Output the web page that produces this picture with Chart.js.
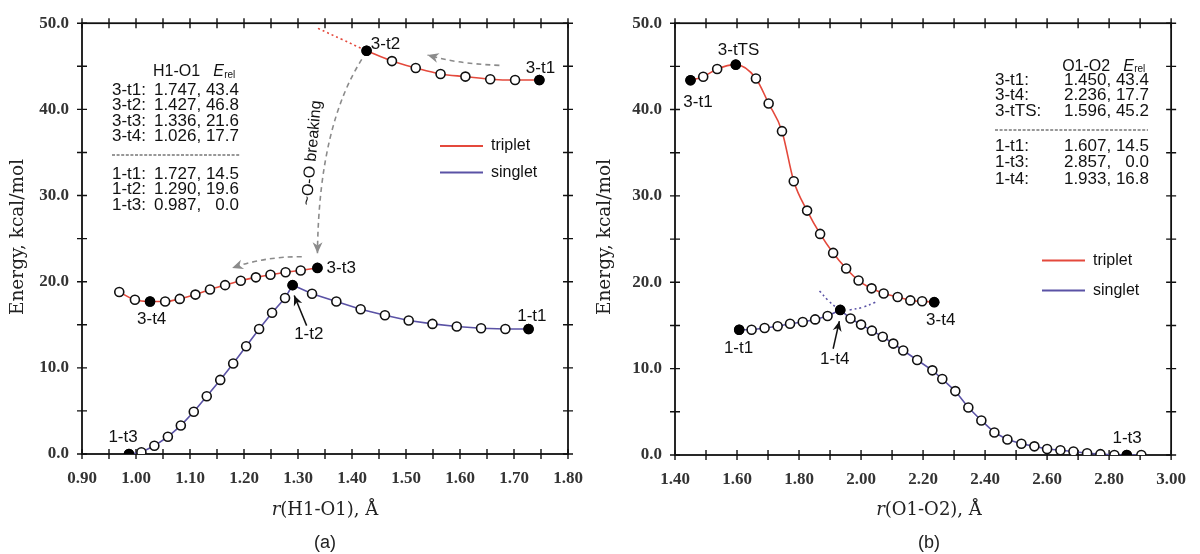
<!DOCTYPE html>
<html>
<head>
<meta charset="utf-8">
<script src="https://cdn.jsdelivr.net/npm/chart.js@4.4.1/dist/chart.umd.min.js"></script>
<style>
    html, body { margin: 0; padding: 0; background: #fff; }
    #wrap { position: relative; width: 1200px; height: 554px; }
    .panel { position: absolute; top: 0; height: 554px; }
</style>
</head>
<body>
<div id="wrap">
    <div class="panel" style="left:0;width:600px"><canvas id="chart-a"></canvas></div>
    <div class="panel" style="left:590px;width:610px"><canvas id="chart-b"></canvas></div>
</div>
<script>

// ---- panel (a) : scan along r(H1-O1) ----
const aTripHiR = [1.427, 1.474, 1.518, 1.564, 1.610, 1.656, 1.702, 1.747];
const aTripHiE = [46.8, 45.6, 44.8, 44.1, 43.8, 43.5, 43.4, 43.4];
const aTripExtR = [1.337, 1.382, 1.427];
const aTripExtE = [49.4, 48.1, 46.8];
const aTripLoR = [0.969, 0.998, 1.026, 1.054, 1.081, 1.110, 1.137, 1.165, 1.194, 1.222, 1.249, 1.277, 1.305, 1.336];
const aTripLoE = [18.8, 17.9, 17.7, 17.7, 18.0, 18.5, 19.1, 19.6, 20.1, 20.5, 20.8, 21.1, 21.3, 21.6];
const aSingR = [0.987, 1.010, 1.034, 1.059, 1.083, 1.107, 1.131, 1.156, 1.180, 1.204, 1.228, 1.252, 1.276, 1.290,
                1.326, 1.371, 1.416, 1.461, 1.505, 1.549, 1.594, 1.639, 1.684, 1.727];
const aSingE = [0.0, 0.2, 0.95, 2.0, 3.3, 4.9, 6.7, 8.6, 10.5, 12.5, 14.5, 16.4, 18.1, 19.6,
                18.6, 17.7, 16.8, 16.1, 15.5, 15.1, 14.8, 14.6, 14.5, 14.5];
const aStatNames = ['3-t1', '3-t2', '3-t3', '3-t4', '1-t1', '1-t2', '1-t3'];
const aStatR = [1.747, 1.427, 1.336, 1.026, 1.727, 1.290, 0.987];
const aStatE = [43.4, 46.8, 21.6, 17.7, 14.5, 19.6, 0.0];

// ---- panel (b) : scan along r(O1-O2) ----
const bTripR = [1.450, 1.491, 1.536, 1.596, 1.661, 1.702, 1.745, 1.783, 1.826, 1.868, 1.910, 1.952, 1.992,
                2.034, 2.073, 2.118, 2.159, 2.197, 2.236];
const bTripE = [43.4, 43.8, 44.7, 45.2, 43.6, 40.7, 37.5, 31.7, 28.3, 25.6, 23.4, 21.6, 20.2,
                19.3, 18.7, 18.3, 17.9, 17.8, 17.7];
const bSingR = [1.607, 1.647, 1.689, 1.731, 1.771, 1.812, 1.852, 1.892, 1.933, 1.966, 2.000, 2.035, 2.070,
                2.104, 2.136, 2.181, 2.230, 2.262, 2.304, 2.346, 2.388, 2.430, 2.472, 2.517, 2.559, 2.600,
                2.643, 2.685, 2.729, 2.772, 2.817, 2.857, 2.904];
const bSingE = [14.5, 14.5, 14.7, 14.9, 15.2, 15.4, 15.7, 16.1, 16.8, 15.8, 15.1, 14.4, 13.7,
                12.9, 12.1, 11.0, 9.8, 8.8, 7.4, 5.5, 4.0, 2.6, 1.8, 1.3, 1.0, 0.7,
                0.55, 0.4, 0.2, 0.1, 0.0, 0.0, 0.0];
const bDotLeftR = [1.866, 1.894, 1.921];
const bDotLeftE = [19.0, 17.9, 17.05];
const bDotRightR = [1.963, 2.005, 2.047];
const bDotRightE = [16.8, 17.1, 17.7];
const bStatNames = ['3-t1', '3-t4', '3-tTS', '1-t1', '1-t3', '1-t4'];
const bStatR = [1.450, 2.236, 1.596, 1.607, 2.857, 1.933];
const bStatE = [43.4, 17.7, 45.2, 14.5, 0.0, 16.8];

const red = '#e4493c';
const blue = '#5a52a5';
const gray = '#8b8b8b';
const SANS = '"Liberation Sans", Arial, sans-serif';
const SERIF = '"DejaVu Serif", serif';


function pts(xs, ys) {
    return xs.map((v, i) => ({ x: v, y: ys[i] }));
}

function curve(label, xs, ys, color, smooth) {
    return {
        label: label,
        data: pts(xs, ys),
        showLine: true,
        borderColor: color,
        borderWidth: 1.6,
        cubicInterpolationMode: smooth ? 'monotone' : 'default',
        tension: 0,
        pointRadius: 4.5,
        pointBorderWidth: 1.6,
        pointBorderColor: '#111',
        pointBackgroundColor: '#fff',
        order: 2
    };
}

function dotted(label, xs, ys, color) {
    return {
        label: label,
        data: pts(xs, ys),
        showLine: true,
        borderColor: color,
        borderWidth: 1.6,
        borderDash: [2, 3],
        tension: 0.4,
        pointRadius: 0,
        order: 3
    };
}

function stationary(xs, ys) {
    return {
        label: 'stationary points',
        data: pts(xs, ys),
        showLine: false,
        pointRadius: 5.2,
        pointBorderWidth: 0,
        pointBackgroundColor: '#000',
        order: 0
    };
}


// frame with ticks crossing all four sides
const framePlugin = {
    id: 'frame',
    beforeDatasetsDraw(chart) {
        const { ctx, chartArea: a, scales: { x, y } } = chart;
        const st = chart.options.frameSteps;
        ctx.save();
        ctx.strokeStyle = '#111';
        ctx.lineWidth = 1.8;
        ctx.strokeRect(a.left, a.top, a.right - a.left, a.bottom - a.top);
        ctx.lineWidth = 1.4;
        ctx.beginPath();
        let n = Math.round((x.max - x.min) / st.x);
        for (let i = 0; i <= n; i++) {
            const p = x.getPixelForValue(x.min + i * st.x);
            ctx.moveTo(p, a.bottom - 5); ctx.lineTo(p, a.bottom + 5);
            ctx.moveTo(p, a.top - 5); ctx.lineTo(p, a.top + 5);
        }
        n = Math.round((y.max - y.min) / st.y);
        for (let i = 0; i <= n; i++) {
            const p = y.getPixelForValue(y.min + i * st.y);
            ctx.moveTo(a.left - 5, p); ctx.lineTo(a.left + 5, p);
            ctx.moveTo(a.right - 5, p); ctx.lineTo(a.right + 5, p);
        }
        ctx.stroke();
        ctx.restore();
    }
};


function toPx(chart, xv, yv) {
    return [chart.scales.x.getPixelForValue(xv), chart.scales.y.getPixelForValue(yv)];
}

function put(ctx, s, x, y, font, align, color) {
    ctx.font = font;
    ctx.textAlign = align || 'left';
    ctx.textBaseline = 'middle';
    ctx.fillStyle = color || '#111';
    ctx.fillText(s, x, y);
}

function head(ctx, x, y, ang, size, color) {
    ctx.save();
    ctx.translate(x, y);
    ctx.rotate(ang);
    ctx.setLineDash([]);
    ctx.fillStyle = color;
    ctx.beginPath();
    ctx.moveTo(0, 0);
    ctx.lineTo(-size, -size * 0.45);
    ctx.lineTo(-size * 0.7, 0);
    ctx.lineTo(-size, size * 0.45);
    ctx.closePath();
    ctx.fill();
    ctx.restore();
}

function grayArrow(chart, p) {
    const ctx = chart.ctx;
    const [x0, y0] = toPx(chart, p[0], p[1]);
    const [c1x, c1y] = toPx(chart, p[2], p[3]);
    const [c2x, c2y] = toPx(chart, p[4], p[5]);
    const [x1, y1] = toPx(chart, p[6], p[7]);
    ctx.save();
    ctx.strokeStyle = gray;
    ctx.lineWidth = 1.6;
    ctx.setLineDash([5, 4]);
    ctx.beginPath();
    ctx.moveTo(x0, y0);
    ctx.bezierCurveTo(c1x, c1y, c2x, c2y, x1, y1);
    ctx.stroke();
    head(ctx, x1, y1, Math.atan2(y1 - c2y, x1 - c2x), 11, gray);
    ctx.restore();
}

function blackArrow(chart, xa, ya, xb, yb) {
    const ctx = chart.ctx;
    const [x0, y0] = toPx(chart, xa, ya);
    const [x1, y1] = toPx(chart, xb, yb);
    ctx.save();
    ctx.strokeStyle = '#111';
    ctx.lineWidth = 1.5;
    ctx.beginPath();
    ctx.moveTo(x0, y0);
    ctx.lineTo(x1, y1);
    ctx.stroke();
    head(ctx, x1, y1, Math.atan2(y1 - y0, x1 - x0), 10, '#111');
    ctx.restore();
}

function erelHeader(ctx, x, y) {
    put(ctx, 'E', x, y, 'italic 16px ' + SANS, 'left');
    put(ctx, 'rel', x + 11, y + 3, '10px ' + SANS, 'left');
}

// rows: [name, r, E, y]; the r column ends one "00.0" before the E column
function table(ctx, rows, x0, c3, dashY, dashRight) {
    const f = '17px ' + SANS;
    ctx.font = f;
    const c2 = c3 - ctx.measureText(' 00.0').width;
    rows.forEach(r => {
        put(ctx, r[0], x0, r[3], f, 'left');
        put(ctx, r[1], c2, r[3], f, 'right');
        put(ctx, r[2], c3, r[3], f, 'right');
    });
    ctx.save();
    ctx.strokeStyle = '#333';
    ctx.lineWidth = 1.2;
    ctx.setLineDash([3, 1.6]);
    ctx.beginPath();
    ctx.moveTo(x0, dashY);
    ctx.lineTo(dashRight, dashY);
    ctx.stroke();
    ctx.restore();
    return c2;
}

function legend(ctx, x, y1, y2) {
    ctx.save();
    ctx.lineWidth = 2;
    ctx.strokeStyle = red;
    ctx.beginPath(); ctx.moveTo(x, y1); ctx.lineTo(x + 43, y1); ctx.stroke();
    ctx.strokeStyle = blue;
    ctx.beginPath(); ctx.moveTo(x, y2); ctx.lineTo(x + 43, y2); ctx.stroke();
    ctx.restore();
    put(ctx, 'triplet', x + 51, y1, '16px ' + SANS, 'left');
    put(ctx, 'singlet', x + 51, y2, '16px ' + SANS, 'left');
}

function axisTitles(ctx, yx, xc, rest, tag) {
    const f = '18.5px ' + SERIF;
    ctx.save();
    ctx.translate(yx, 237);
    ctx.rotate(-Math.PI / 2);
    put(ctx, 'Energy, kcal/mol', 0, 0, f, 'center', '#222');
    ctx.restore();
    const fx = '18px ' + SERIF;
    ctx.font = 'italic ' + fx;
    const w1 = ctx.measureText('r').width;
    ctx.font = fx;
    const w2 = ctx.measureText(rest).width;
    const left = xc - (w1 + w2) / 2;
    put(ctx, 'r', left, 510, 'italic ' + fx, 'left', '#222');
    put(ctx, rest, left + w1, 510, fx, 'left', '#222');
    put(ctx, tag, xc, 543, '18px ' + SANS, 'center', '#222');
}


function drawNotesA(chart) {
    const ctx = chart.ctx;
    const f17 = '17px ' + SANS;
    const lab = (s, xv, yv) => {
        const p = toPx(chart, xv, yv);
        put(ctx, s, p[0], p[1], f17, 'center');
    };
    lab(aStatNames[1], 1.462, 47.5);
    lab(aStatNames[0], 1.749, 44.8);
    lab(aStatNames[2], 1.380, 21.5);
    lab(aStatNames[3], 1.029, 15.6);
    lab(aStatNames[5], 1.320, 13.9);
    lab(aStatNames[6], 0.976, 1.9);
    lab(aStatNames[4], 1.733, 16.0);

    blackArrow(chart, 1.316, 14.9, 1.293, 18.4);
    grayArrow(chart, [1.673, 45.1, 1.61, 45.3, 1.58, 45.6, 1.540, 46.3]);
    grayArrow(chart, [1.418, 45.8, 1.37, 41.0, 1.338, 34, 1.336, 23.3]);
    grayArrow(chart, [1.307, 22.9, 1.26, 22.9, 1.22, 22.5, 1.178, 21.6]);

    ctx.save();
    ctx.translate(312, 153);
    ctx.rotate(-1.48);
    put(ctx, '~O-O breaking', 0, 0, '16px ' + SANS, 'center');
    ctx.restore();

    const rows = [
        ['3-t1:', '1.747,', '43.4', 90],
        ['3-t2:', '1.427,', '46.8', 105.5],
        ['3-t3:', '1.336,', '21.6', 121],
        ['3-t4:', '1.026,', '17.7', 136],
        ['1-t1:', '1.727,', '14.5', 174],
        ['1-t2:', '1.290,', '19.6', 189.5],
        ['1-t3:', '0.987,', '0.0', 205]
    ];
    const c2 = table(ctx, rows, 112, 239, 155, 240);
    put(ctx, 'H1-O1', c2 - 1, 72, '16px ' + SANS, 'right');
    erelHeader(ctx, c2 + 12, 72);

    legend(ctx, 440, 146, 172.5);
    axisTitles(ctx, 18.5, 325, '(H1-O1), \u00c5', '(a)');
}

function drawNotesB(chart) {
    const ctx = chart.ctx;
    const f17 = '17px ' + SANS;
    const lab = (s, xv, yv) => {
        const p = toPx(chart, xv, yv);
        put(ctx, s, p[0], p[1], f17, 'center');
    };
    lab(bStatNames[2], 1.605, 46.9);
    lab(bStatNames[0], 1.474, 40.8);
    lab(bStatNames[3], 1.605, 12.4);
    lab(bStatNames[5], 1.915, 11.1);
    lab(bStatNames[1], 2.257, 15.6);
    lab(bStatNames[4], 2.858, 1.9);

    blackArrow(chart, 1.910, 12.3, 1.930, 15.5);

    const rows = [
        ['3-t1:', '1.450,', '43.4', 80],
        ['3-t4:', '2.236,', '17.7', 95.5],
        ['3-tTS:', '1.596,', '45.2', 111],
        ['1-t1:', '1.607,', '14.5', 146],
        ['1-t3:', '2.857,', '0.0', 162.5],
        ['1-t4:', '1.933,', '16.8', 179]
    ];
    const c2 = table(ctx, rows, 405, 559, 130, 558);
    put(ctx, 'O1-O2', c2 - 1, 66.5, '16px ' + SANS, 'right');
    erelHeader(ctx, c2 + 12, 66.5);

    legend(ctx, 452, 260.5, 290.5);
    axisTitles(ctx, 15, 339, '(O1-O2), \u00c5', '(b)');
}


function makeChart(id, cfg) {
    const tickFont = { family: '"Liberation Serif", serif', size: 17, weight: 'bold' };
    return new Chart(document.getElementById(id), {
        type: 'scatter',
        data: { datasets: cfg.datasets },
        options: {
            responsive: true,
            maintainAspectRatio: false,
            animation: false,
            events: [],
            frameSteps: cfg.steps,
            layout: { padding: { top: 18, right: cfg.padRight, left: 0, bottom: 0 } },
            plugins: { legend: { display: false }, tooltip: { enabled: false } },
            scales: {
                x: {
                    type: 'linear', min: cfg.xMin, max: cfg.xMax,
                    grid: { display: false, drawTicks: false },
                    border: { display: false },
                    ticks: {
                        stepSize: cfg.xStep, padding: 14, color: '#333', font: tickFont,
                        maxRotation: 0, autoSkip: false,
                        callback: v => v.toFixed(2)
                    },
                    afterFit: s => { s.height = cfg.xHeight; }
                },
                y: {
                    type: 'linear', min: 0, max: 50,
                    grid: { display: false, drawTicks: false },
                    border: { display: false },
                    ticks: {
                        stepSize: 10, padding: 13, color: '#333', font: tickFont,
                        callback: v => v.toFixed(1)
                    },
                    afterFit: s => { s.width = cfg.yWidth; }
                }
            }
        },
        plugins: [framePlugin, { id: 'notes', afterDatasetsDraw: cfg.notes }]
    });
}


makeChart('chart-a', {
    datasets: [
        stationary(aStatR, aStatE),
        curve('triplet', aTripHiR, aTripHiE, red, true),
        curve('triplet', aTripLoR, aTripLoE, red, true),
        curve('singlet', aSingR, aSingE, blue, false),
        dotted('triplet extension', aTripExtR, aTripExtE, red)
    ],
    xMin: 0.9, xMax: 1.8, xStep: 0.1,
    steps: { x: 0.05, y: 5 },
    padRight: 32, xHeight: 100, yWidth: 82,
    notes: drawNotesA
});

makeChart('chart-b', {
    datasets: [
        stationary(bStatR, bStatE),
        curve('triplet', bTripR, bTripE, red, true),
        curve('singlet', bSingR, bSingE, blue, false),
        dotted('singlet crossing', bDotLeftR, bDotLeftE, blue),
        dotted('singlet crossing', bDotRightR, bDotRightE, blue)
    ],
    xMin: 1.4, xMax: 3.0, xStep: 0.2,
    steps: { x: 0.1, y: 5 },
    padRight: 17, xHeight: 99, yWidth: 85,
    notes: drawNotesB
});

</script>
</body>
</html>
